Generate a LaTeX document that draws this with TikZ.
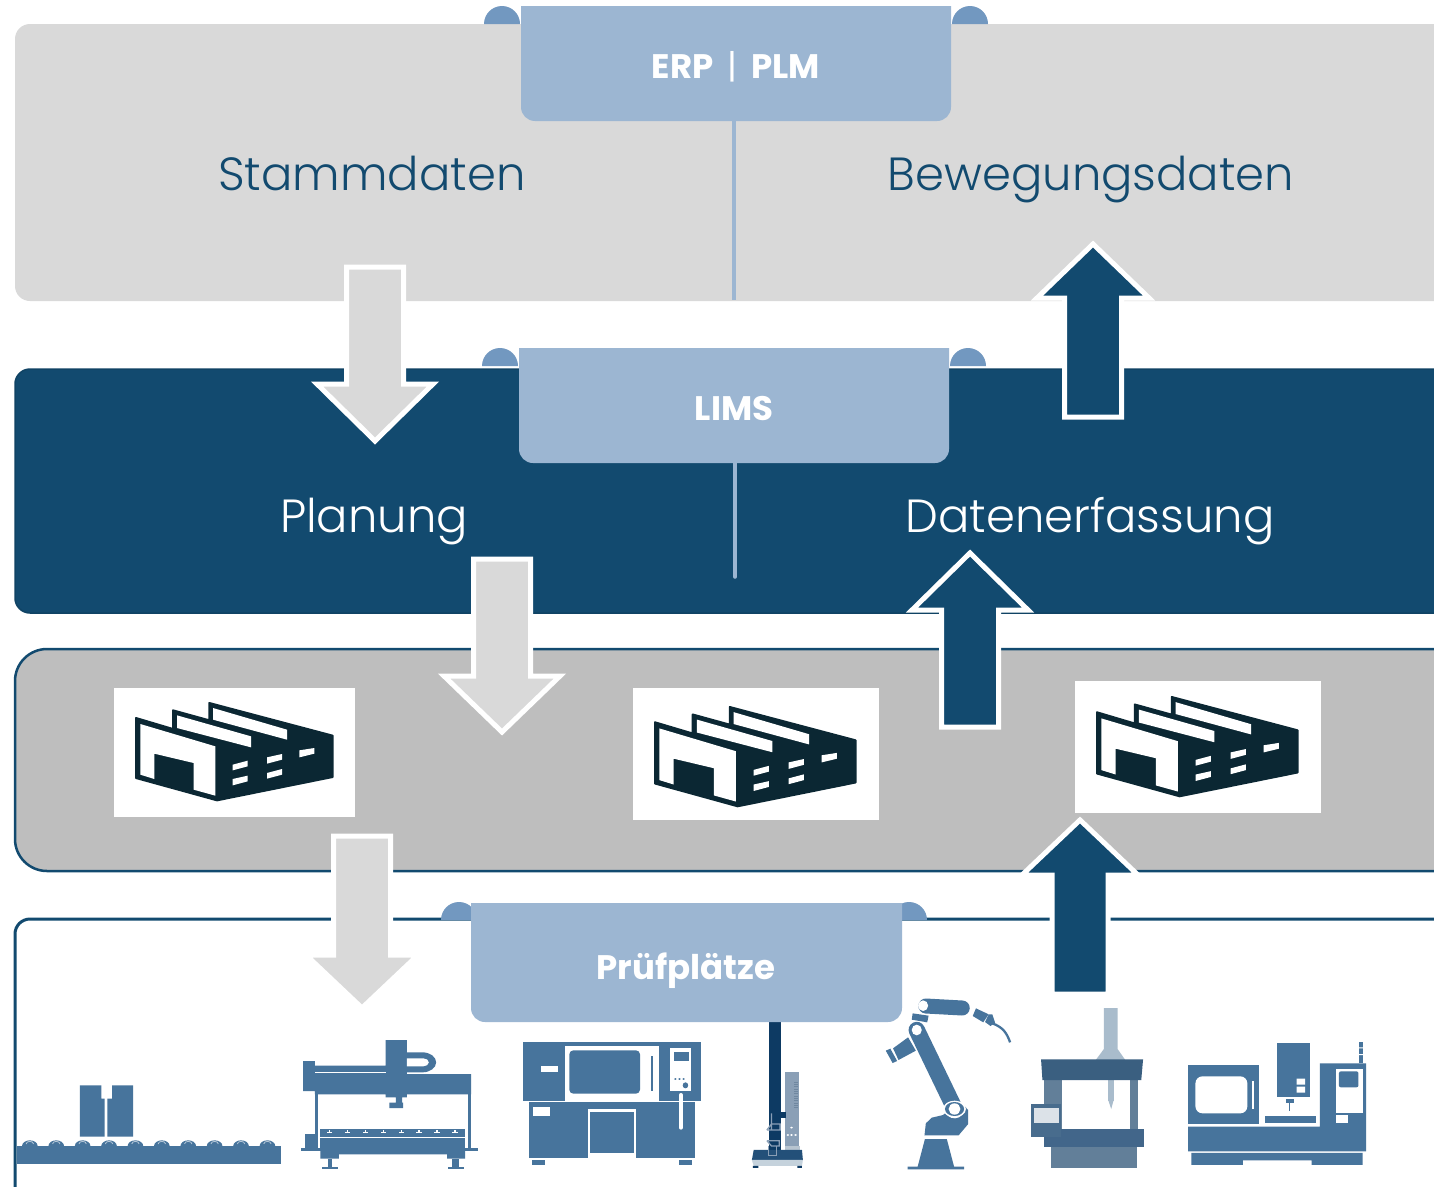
\documentclass[tikz,border=0pt]{standalone}
\usepackage{fontspec}
\setmainfont{Poppins}
\newfontfamily\lightf{Poppins Light}
\definecolor{navy}{HTML}{124A6F}
\definecolor{lgray}{HTML}{D9D9D9}
\definecolor{mgray}{HTML}{BEBEBE}
\definecolor{tabc}{HTML}{9CB6D2}
\definecolor{earc}{HTML}{7298C0}
\definecolor{mach}{HTML}{47749C}
\definecolor{machl}{HTML}{B5C7D8}
\definecolor{facdark}{HTML}{0B2733}
\definecolor{tdark}{HTML}{0D3A63}
\definecolor{tgray}{HTML}{8A9FB6}
\definecolor{ttick}{HTML}{6F87A0}
\definecolor{tpale}{HTML}{B7C4D0}
\definecolor{tbase}{HTML}{235079}
\definecolor{tfoot}{HTML}{C5D2DC}
\definecolor{cmma}{HTML}{A9BCCC}
\definecolor{cmmb}{HTML}{627F99}
\definecolor{cmmc}{HTML}{3A5F80}
\definecolor{cmmd}{HTML}{42668A}
\definecolor{cmme}{HTML}{486C8D}
\definecolor{cmmf}{HTML}{DCE2E8}
\newcommand{\blockarrow}[7]{% style, cx, tip, headhalf, base, shafthalf, end
  \filldraw[#1] (#2,#3) -- (#2+#4,#5) -- (#2+#6,#5) -- (#2+#6,#7) -- (#2-#6,#7) -- (#2-#6,#5) -- (#2-#4,#5) -- cycle;}
\newcommand{\tabshape}[7]{% left, right, top, bottom, ear centre left, ear centre right, ear base
  \fill[earc] (#5-18,#7) arc[start angle=180,end angle=360,radius=18] -- cycle;
  \fill[earc] (#6-18,#7) arc[start angle=180,end angle=360,radius=18] -- cycle;
  \fill[tabc] (#1,#3) -- (#2,#3) -- (#2,#4-14) arc[start angle=0,end angle=90,radius=14] -- (#1+14,#4) arc[start angle=90,end angle=180,radius=14] -- cycle;}
\newcommand{\factory}[3]{%
  \begin{scope}[shift={(#1,#2)},scale=#3/3,shift={(-107,-70)}]
    \filldraw[facdark,line width=2,line join=round] (107,115) -- (218,148) -- (218,92) -- (327,122) -- (327,70) -- (697,168) -- (697,292) -- (350,362) -- (107,295) -- cycle;
    \fill[white] (120,133) -- (345,200) -- (345,348) -- (280,330) -- (280,250) -- (162,222) -- (162,298) -- (120,285) -- cycle;
    \fill[white] (230,107) -- (452,170) -- (452,203) -- (230,145) -- cycle;
    \fill[white] (338,85) -- (560,150) -- (560,180) -- (338,120) -- cycle;
    \fill[white] (397,255) -- (442,243) -- (442,260) -- (397,272) -- cycle;
    \fill[white] (397,298) -- (442,288) -- (442,305) -- (397,317) -- cycle;
    \fill[white] (500,233) -- (545,223) -- (545,240) -- (500,252) -- cycle;
    \fill[white] (500,280) -- (545,268) -- (545,285) -- (500,297) -- cycle;
    \fill[white] (597,212) -- (642,205) -- (642,222) -- (597,233) -- cycle;
  \end{scope}}
\tikzset{
  x=1pt,y=-1pt,
  bigtext/.style={font=\fontsize{46.5}{50}\selectfont\lightf,inner sep=0pt,anchor=base},
  tabtext/.style={font=\fontsize{34}{36}\selectfont\bfseries,text=white,inner sep=0pt,anchor=base},
  garrow/.style={fill=lgray,draw=white,line width=5,miter limit=10},
  darrow/.style={fill=navy,draw=white,line width=5,miter limit=10},
  tabline/.style={draw=tabc,line width=3.5},
  wbox/.style={fill=white},
}
\begin{document}
\begin{tikzpicture}
\useasboundingbox (0,0) rectangle (1434,1186);
\fill[white] (0,0) rectangle (1434,1186);
\begin{scope}
\clip (0,0) rectangle (1434,1186);
% bands
\fill[lgray,rounded corners=15] (15,24) rectangle (1500,301);
\filldraw[fill=navy,draw=navy!90!black,line width=1.5,rounded corners=15] (15,369) rectangle (1500,613);
\filldraw[fill=mgray,draw=navy,line width=2.5,rounded corners=32] (15,649) rectangle (1500,871);
\draw[navy,line width=3,rounded corners=15] (15,1300) -- (15,919) -- (1500,919);
% divider lines
\coordinate (erpfoot) at (734,121); \coordinate (erpend) at (734,300);
\coordinate (limsfoot) at (735,463); \coordinate (limsend) at (735,577);
\draw[tabline] (erpfoot) -- (erpend);
\draw[tabline,line cap=round] (limsfoot) -- (limsend);
% factory boxes
\fill[wbox] (114,688) rectangle (355,817);
\fill[wbox] (633,688) rectangle (879,820);
\fill[wbox] (1075,681) rectangle (1321,813);
\factory{136}{703}{1}
\factory{655}{707}{1.02}
\factory{1097}{697}{1.02}
% machines, left group
\begin{scope}[shift={(0,1000)},x=0.4591pt,y=-0.3333pt]
  \begin{scope}[mach]
  \fill (36,437) rectangle (612,492);
  \foreach \i in {0,...,9} {
    \fill (65+57.5*\i,438) circle[radius=17];
    \draw[machl,line width=0.8] (65+57.5*\i-8,432) arc[start angle=180,end angle=360,radius=8];
  }
  \fill (174,256) -- (221,256) -- (221,296) -- (228,296) -- (228,410) -- (174,410) -- cycle;
  \fill (244,256) -- (290,256) -- (290,410) -- (234,410) -- (234,296) -- (244,296) -- cycle;
  % gantry
  \fill (660,183) -- (686,183) -- (686,197) -- (840,197) -- (840,120) -- (886,120) -- (886,157) -- (920,157) arc[start angle=-90,end angle=90,radius=30] -- (886,217) -- (886,222) -- (1026,222) -- (1026,283) -- (886,283) -- (886,292) -- (876,292) -- (876,308) -- (878,308) -- (878,324) -- (848,324) -- (848,308) -- (862,308) -- (862,292) -- (840,292) -- (840,283) -- (686,283) -- (686,273) -- (660,273) -- cycle;
  \fill[white] (886,175) -- (922,175) arc[start angle=-90,end angle=90,radius=12] -- (886,199) -- cycle;
  \fill[white] (686,216) rectangle (840,220);
  \fill (686,283) rectangle (692,445);
  \fill (1019,283) rectangle (1026,445);
  \fill (698,388) rectangle (1013,410);
  \foreach \i in {0,...,7} {\fill[white] (718+39*\i-6,400) rectangle (718+39*\i+6,397); \fill[white] (718+39*\i-1.5,390) rectangle (718+39*\i+1.5,398);}
  \fill (698,415) rectangle (1013,445);
  \fill (664,403) rectangle (692,445);
  \fill (656,445) rectangle (1041,452);
  \fill (698,452) -- (1013,452) -- (1013,476) -- (974,476) -- (974,463) -- (738,463) -- (738,476) -- (698,476) -- cycle;
  \fill (714,476) rectangle (724,502); \fill (702,502) rectangle (736,508);
  \fill (985,476) rectangle (1000,502); \fill (976,502) rectangle (1010,508);
  % cnc
  \fill (1139,125) rectangle (1527,303);
  \fill[white] (1231,139) rectangle (1435,303);
  \fill[rounded corners=4] (1240,151) rectangle (1394,281);
  \fill (1417,167) rectangle (1423,273);
  \fill[white] (1460,145) rectangle (1506,273);
  \fill (1467,157) rectangle (1500,182);
  \foreach \i in {1471,1480,1489} \fill (\i,237) circle[radius=2.8];
  \fill (1493,256) ellipse[x radius=6,y radius=9];
  \fill[white] (1179,199) rectangle (1215,216);
  \fill (1152,307) rectangle (1514,473);
  \fill[white] (1281,328) rectangle (1386,473);
  \fill (1285,335) rectangle (1381,458);
  \fill[white] (1162,321) rectangle (1198,347);
  \draw[white,line width=4,line cap=round] (1483,285) -- (1483,383);
  \fill (1159,480) rectangle (1187,494);
  \fill (1480,480) rectangle (1507,494);
  \end{scope}
\end{scope}
% machines, right group
\begin{scope}[shift={(720,980)},x=0.4554pt,y=-0.3333pt]
  % tester
  \fill[tdark] (107,80) rectangle (134,510);
  \fill[tgray] (143,277) rectangle (174,510);
  \foreach \i in {0,...,11} \fill[ttick] (163,305+7*\i) rectangle (171,308+7*\i);
  \fill[tpale] (143,498) rectangle (176,510);
  \fill[tdark] (110,397) rectangle (145,415);
  \draw[tgray,line width=1.3] (113,400) -- (113,450) (103,450) -- (113,432) -- (132,432) -- (132,450) -- (103,450);
  \draw[tgray,line width=1.3] (103,482) -- (130,482) -- (130,498) -- (113,498) -- (103,482);
  \fill[white] (157,443) circle[radius=3] (149,465) circle[radius=3] (157,465) circle[radius=3] (166,465) circle[radius=3];
  \fill[tbase] (74,510) -- (180,510) -- (182,540) -- (70,540) -- cycle;
  \draw[tgray,line width=1] (107,498) -- (107,528) -- (125,528) -- (125,498);
  \fill[tfoot] (70,540) -- (182,540) -- (180,558) -- (74,558) -- cycle;
  \fill[tdark] (72,558) rectangle (84,564) (170,558) rectangle (180,564);
  % robot
  \begin{scope}[mach]
  \fill (450,477) -- (498,477) -- (514,560) -- (536,560) -- (536,568) -- (412,568) -- (412,560) -- (434,560) -- cycle;
  \fill (490,405) -- (525,362) -- (545,390) -- (545,432) -- (524,466) -- (449,466) -- (452,430) -- (465,413) -- cycle;
  \draw[white,line width=20,line cap=round] (432,150) -- (515,385);
  \draw[mach,line width=16.4,line cap=round] (432,150) -- (515,385);
  \fill[white] (515,387) circle[radius=25];
  \fill (515,387) circle[radius=21];
  \fill[white] (515,387) ellipse[x radius=13,y radius=17];
  \fill[white] (432,150) ellipse[x radius=11,y radius=16];
  \fill (380,205) -- (413,172) -- (430,212) -- (392,240) -- cycle;
  \fill (364,212) -- (374,206) -- (389,243) -- (379,249) -- cycle;
  \fill (423,100) -- (458,107) -- (455,127) -- (421,119) -- cycle;
  \draw[mach,line width=15,line cap=round] (452,78) -- (532,84);
  \fill[white] (446,77) ellipse[x radius=11,y radius=16];
  \fill (562,85) -- (590,103) -- (578,127) -- (555,108) -- cycle;
  \fill (590,103) -- (598,103) -- (604,128) -- (594,138) -- (582,126) -- cycle;
  \draw[mach,line width=2.3] (598,130) .. controls (622,142) and (630,160) .. (637,187);
  \end{scope}
  % CMM
  \fill[cmma] (843,84) -- (873,84) -- (873,207) -- (890,240) -- (825,240) -- (843,207) -- cycle;
  \fill[cmmb] (711,300) rectangle (750,448);
  \fill[cmmb] (901,300) rectangle (917,448);
  \fill[cmma] (851,300) rectangle (866,362);
  \fill[cmma] (853,362) -- (864,362) -- (859,387) -- cycle;
  \fill[cmmc] (705,238) -- (929,238) -- (925,300) -- (708,300) -- cycle;
  \fill[cmmb] (726,502) rectangle (916,563);
  \fill[cmmd] (711,448) rectangle (931,502);
  \fill[cmme] (683,373) rectangle (749,470);
  \fill[cmmf] (690,385) rectangle (744,430);
  % lathe
  \begin{scope}[mach]
  \fill (1028,256) rectangle (1183,433);
  \fill[white,rounded corners=7] (1044,289) rectangle (1158,400);
  \fill[white] (1168,303) rectangle (1173,387);
  \fill (1223,190) rectangle (1296,352);
  \fill[white] (1266,296) rectangle (1285,314) (1266,320) rectangle (1285,338);
  \fill (1242,357) rectangle (1260,370);
  \fill (1249,370) rectangle (1251,392);
  \fill (1197,408) rectangle (1309,430);
  \fill (1028,440) -- (1317,440) -- (1317,250) -- (1419,250) -- (1419,514) -- (1028,514) -- cycle;
  \fill[white] (1352,266) rectangle (1411,398);
  \fill[rounded corners=2] (1359,274) rectangle (1402,322);
  \fill[white] (1352,404) rectangle (1378,429);
  \fill (1403,185) rectangle (1412,250);
  \fill[white] (1403,202) rectangle (1412,205) (1403,222) rectangle (1412,225);
  \fill (1035,519) -- (1411,519) -- (1411,555) -- (1299,555) -- (1299,541) -- (1148,541) -- (1148,555) -- (1035,555) -- cycle;
  \end{scope}
\end{scope}
% tabs
\tabshape{521}{951}{6}{121}{502}{970}{24}
\tabshape{519}{949}{348}{463}{500}{968}{366}
\tabshape{471}{902}{903}{1022}{459}{909}{920}
% block arrows
\blockarrow{garrow}{375}{441}{58}{384}{28.5}{267}
\blockarrow{garrow}{502}{732}{58}{676}{28.5}{559}
\blockarrow{garrow}{362}{1008}{56}{955}{28.5}{836}
\blockarrow{darrow}{1093}{244}{56}{298}{28.5}{417}
\blockarrow{darrow}{970}{553}{58}{610}{28.5}{727}
\blockarrow{darrow}{1080}{820}{58}{875}{28}{994}
% labels
\node[tabtext] (erp) at (736,78) {ERP\hspace{14pt}{\fontseries{m}\selectfont|}\hspace{14pt}PLM};
\node[tabtext] (lims) at (734,420) {LIMS};
\node[tabtext] (pruef) at (686,979) {Prüfplätze};
\node[bigtext,text=navy] (stamm) at (372,190) {Stammdaten};
\node[bigtext,text=navy] (beweg) at (1091,190) {Bewegungsdaten};
\node[bigtext,text=white] (plan) at (374,532) {Planung};
\node[bigtext,text=white] (daten) at (1090,532) {Datenerfassung};
\end{scope}
\end{tikzpicture}
\end{document}
